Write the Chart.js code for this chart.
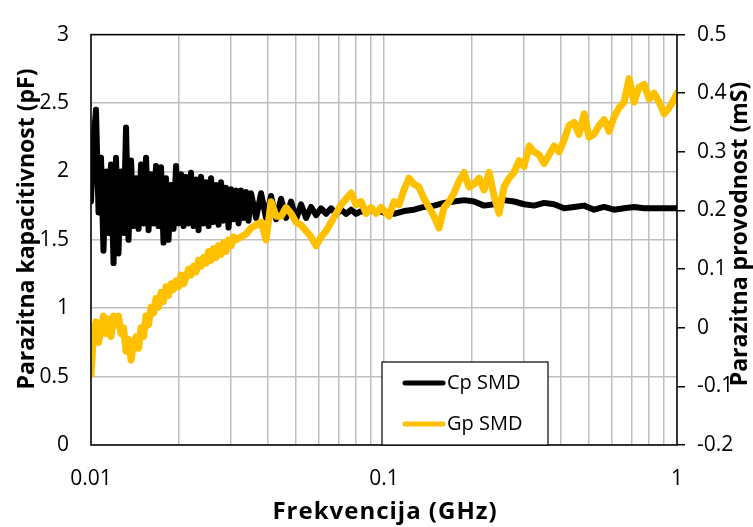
<!DOCTYPE html>
<html>
<head>
<meta charset="utf-8">
<script src="https://cdn.jsdelivr.net/npm/chart.js@4"></script>
<style>
  html, body { margin: 0; padding: 0; background: #fff; }
  #wrap { width: 753px; height: 527px; }
</style>
</head>
<body>
<div id="wrap"><canvas id="chart" width="753" height="527"></canvas></div>
<script>
// Cp SMD (pF, left axis)
const cpFreq = [
  0.01, 0.0102, 0.0104, 0.01061, 0.01082, 0.01103, 0.01126, 0.01148, 0.0117, 0.01194,
  0.01217, 0.01241, 0.01266, 0.01291, 0.01317, 0.01343, 0.0137, 0.01397, 0.01425, 0.01453,
  0.01482, 0.01511, 0.01541, 0.01572, 0.01603, 0.01635, 0.01667, 0.017, 0.01734, 0.01768,
  0.01803, 0.01839, 0.01876, 0.01913, 0.01951, 0.0199, 0.02029, 0.02069, 0.0211, 0.02152,
  0.02195, 0.02239, 0.02283, 0.02328, 0.02375, 0.02422, 0.0247, 0.02519, 0.02569, 0.0262,
  0.02672, 0.02725, 0.02779, 0.02834, 0.0289, 0.02948, 0.03006, 0.03066, 0.03127, 0.03189,
  0.03252, 0.03317, 0.03382, 0.03449, 0.03518,
  0.03659, 0.03806, 0.03958, 0.04117, 0.04282, 0.04454, 0.04632, 0.04818, 0.05011, 0.05212,
  0.05421, 0.05639, 0.05865, 0.061, 0.06344, 0.06599, 0.06863, 0.07139, 0.07425, 0.07722,
  0.08032, 0.08354, 0.08689, 0.09038, 0.094, 0.09777,
  0.1, 0.1082, 0.117, 0.1266, 0.137, 0.1482, 0.1603, 0.1734, 0.1876, 0.2029,
  0.2195, 0.2375, 0.2569, 0.2779, 0.3006, 0.3252, 0.3518, 0.3806, 0.4117, 0.4454,
  0.4818, 0.5212, 0.5639, 0.61, 0.6599, 0.7139, 0.7722, 0.8354, 0.9038, 1.0
];
const cpVals = [
  1.78, 2.22, 2.45, 1.70, 2.10, 1.42, 2.00, 1.55, 2.05, 1.33,
  2.10, 1.40, 2.00, 1.55, 2.32, 1.50, 2.08, 1.60, 1.95, 1.58,
  2.05, 1.62, 2.10, 1.57, 1.98, 1.62, 2.04, 1.60, 2.03, 1.48,
  1.95, 1.50, 1.90, 1.58, 2.04, 1.62, 1.98, 1.60, 1.96, 1.62,
  1.99, 1.60, 1.94, 1.57, 1.96, 1.62, 1.92, 1.60, 1.95, 1.63,
  1.90, 1.61, 1.92, 1.64, 1.88, 1.59, 1.87, 1.65, 1.86, 1.62,
  1.86, 1.66, 1.85, 1.64, 1.84,
  1.66, 1.84, 1.66, 1.82, 1.65, 1.80, 1.66, 1.78, 1.65, 1.76,
  1.66, 1.74, 1.68, 1.73, 1.69, 1.73, 1.69, 1.72, 1.69, 1.72,
  1.69, 1.71, 1.70, 1.72, 1.70, 1.71,
  1.70, 1.69, 1.71, 1.72, 1.74, 1.75, 1.77, 1.78, 1.79, 1.78,
  1.75, 1.76, 1.79, 1.78, 1.76, 1.75, 1.77, 1.76, 1.73, 1.74,
  1.75, 1.72, 1.74, 1.72, 1.73, 1.74, 1.73, 1.73, 1.73, 1.73
];

// Gp SMD (mS, right axis)
const gpFreq = [
  0.01, 0.0102, 0.0104, 0.01061, 0.01082, 0.01103, 0.01126, 0.01148, 0.0117, 0.01194,
  0.01217, 0.01241, 0.01266, 0.01291, 0.01317, 0.01343, 0.0137, 0.01397, 0.01425, 0.01453,
  0.01482, 0.01511, 0.01541, 0.01572, 0.01603, 0.01635, 0.01667, 0.017, 0.01734, 0.01768,
  0.01803, 0.01839, 0.01876, 0.01913, 0.01951, 0.0199, 0.02029, 0.02069, 0.0211, 0.02152,
  0.02195, 0.02239, 0.02283, 0.02328, 0.02375, 0.02422, 0.0247, 0.02519, 0.02569, 0.0262,
  0.02672, 0.02725, 0.02779, 0.02834, 0.0289, 0.02948, 0.03006, 0.03066, 0.03127,
  0.03252, 0.03382, 0.03518, 0.03659, 0.03806, 0.03958, 0.04117, 0.04282, 0.04454, 0.04632,
  0.04818, 0.05011, 0.05212, 0.05421, 0.05639, 0.05865, 0.061, 0.06344, 0.06599, 0.06863,
  0.07139, 0.07425, 0.07722, 0.08032, 0.08354, 0.08689, 0.09038, 0.094, 0.09777,
  0.1, 0.104, 0.1082, 0.1126, 0.117, 0.1217, 0.1266, 0.1317, 0.137, 0.1425,
  0.1482, 0.1541, 0.1603, 0.1667, 0.1734, 0.1803, 0.1876, 0.1951, 0.2029, 0.211,
  0.2195, 0.2283, 0.2375, 0.247, 0.2569, 0.2672, 0.2779, 0.289, 0.3006, 0.3127,
  0.3252, 0.3382, 0.3518, 0.3659, 0.3806, 0.3958, 0.4117, 0.4282, 0.4454, 0.4632,
  0.4818, 0.5011, 0.5212, 0.5421, 0.5639, 0.5865, 0.61, 0.6344, 0.6599, 0.6863,
  0.7139, 0.7425, 0.7722, 0.8032, 0.8354, 0.8689, 0.9038, 0.94, 0.9777, 1.0
];
const gpVals = [
  -0.08, -0.01, 0.01, -0.025, -0.005, 0.02, -0.01, 0.015, -0.015, 0.02,
  0.005, 0.02, -0.01, 0.0, -0.04, -0.02, -0.055, -0.03, -0.015, -0.035,
  0.0, -0.015, 0.02, 0.005, 0.035, 0.025, 0.05, 0.035, 0.06, 0.045,
  0.07, 0.055, 0.075, 0.065, 0.08, 0.07, 0.09, 0.075, 0.085, 0.1,
  0.09, 0.105, 0.095, 0.115, 0.105, 0.12, 0.11, 0.13, 0.115, 0.135,
  0.12, 0.14, 0.125, 0.145, 0.13, 0.15, 0.14, 0.155, 0.15,
  0.155, 0.16, 0.17, 0.175, 0.18, 0.15, 0.215, 0.19, 0.19, 0.205,
  0.195, 0.18, 0.175, 0.165, 0.155, 0.14, 0.155, 0.165, 0.18, 0.195,
  0.21, 0.22, 0.23, 0.21, 0.215, 0.195, 0.205, 0.195, 0.205,
  0.20, 0.19, 0.215, 0.21, 0.235, 0.255, 0.245, 0.24, 0.22, 0.205,
  0.19, 0.17, 0.205, 0.215, 0.23, 0.25, 0.265, 0.24, 0.245, 0.255,
  0.235, 0.265, 0.225, 0.195, 0.24, 0.255, 0.265, 0.285, 0.275, 0.31,
  0.30, 0.295, 0.28, 0.295, 0.31, 0.30, 0.32, 0.345, 0.35, 0.33,
  0.365, 0.325, 0.33, 0.345, 0.355, 0.335, 0.36, 0.375, 0.385, 0.425,
  0.385, 0.41, 0.415, 0.39, 0.40, 0.385, 0.365, 0.375, 0.39, 0.40
];

// axes
const xGridTicks = [0.01, 0.02, 0.03, 0.04, 0.05, 0.06, 0.07, 0.08, 0.09,
  0.1, 0.2, 0.3, 0.4, 0.5, 0.6, 0.7, 0.8, 0.9, 1];
const xLabelValues = [0.01, 0.1, 1];
const xLabels = ['0.01', '0.1', '1'];
const leftTicks = [0, 0.5, 1, 1.5, 2, 2.5, 3];
const leftLabels = ['0', '0.5', '1', '1.5', '2', '2.5', '3'];
const rightTicks = [-0.2, -0.1, 0, 0.1, 0.2, 0.3, 0.4, 0.5];
const rightLabels = ['-0.2', '-0.1', '0', '0.1', '0.2', '0.3', '0.4', '0.5'];

const seriesNames = ['Cp SMD', 'Gp SMD'];
const seriesColors = ['#000000', '#FFC000'];
const xTitle = 'Frekvencija (GHz)';
const yTitle = 'Parazitna kapacitivnost (pF)';
const y2Title = 'Parazitna provodnost (mS)';

const tickFont = { family: 'Open Sans', size: 21 };

const decor = {
  id: 'decor',
  afterDatasetsDraw(chart) {
    const { ctx, chartArea: a } = chart;
    ctx.save();
    ctx.strokeStyle = '#000';
    ctx.lineWidth = 1.5;
    ctx.strokeRect(a.left, a.top, a.right - a.left, a.bottom - a.top);
    ctx.restore();
  },
  afterDraw(chart) {
    const { ctx, chartArea: a } = chart;
    ctx.save();
    ctx.fillStyle = '#000';
    ctx.textAlign = 'center';
    ctx.textBaseline = 'middle';
    ctx.font = 'bold 24px "Open Sans"';
    ctx.letterSpacing = '1px';
    ctx.fillText(xTitle, 385, 512);
    ctx.letterSpacing = '0px';

    ctx.font = 'bold 23px "Open Sans"';
    ctx.save();
    ctx.translate(27, 229);
    ctx.rotate(-Math.PI / 2);
    ctx.fillText(yTitle, 0, 0);
    ctx.restore();

    ctx.save();
    ctx.translate(740, 234);
    ctx.rotate(-Math.PI / 2);
    ctx.fillText(y2Title, 0, 0);
    ctx.restore();

    // legend box
    const lx = 382, ly = 362, lw = 166, lh = a.bottom - 362;
    ctx.fillStyle = '#fff';
    ctx.fillRect(lx, ly, lw, lh);
    ctx.strokeStyle = '#000';
    ctx.lineWidth = 1.2;
    ctx.strokeRect(lx, ly, lw, lh);
    ctx.font = '20px "Open Sans"';
    ctx.textAlign = 'left';
    const rows = [383, 424];
    seriesNames.forEach((name, i) => {
      ctx.strokeStyle = seriesColors[i];
      ctx.lineWidth = 5;
      ctx.lineCap = 'round';
      ctx.beginPath();
      ctx.moveTo(405, rows[i]);
      ctx.lineTo(443, rows[i]);
      ctx.stroke();
      ctx.fillStyle = '#000';
      ctx.fillText(name, 447, rows[i]);
    });
    ctx.restore();
  }
};

new Chart(document.getElementById('chart'), {
  type: 'line',
  data: {
    datasets: [
      {
        label: seriesNames[0],
        data: cpFreq.map((f, i) => ({ x: f, y: cpVals[i] })),
        borderColor: seriesColors[0],
        borderWidth: 6,
        borderJoinStyle: 'round',
        borderCapStyle: 'round',
        pointRadius: 0,
        yAxisID: 'y',
        order: 1
      },
      {
        label: seriesNames[1],
        data: gpFreq.map((f, i) => ({ x: f, y: gpVals[i] })),
        borderColor: seriesColors[1],
        borderWidth: 7,
        borderJoinStyle: 'round',
        borderCapStyle: 'round',
        pointRadius: 0,
        yAxisID: 'y2',
        order: 0
      }
    ]
  },
  options: {
    responsive: false,
    animation: false,
    devicePixelRatio: 1,
    layout: { padding: { top: 20, left: 0, right: 0, bottom: 0 } },
    plugins: { legend: { display: false }, tooltip: { enabled: false } },
    scales: {
      x: {
        type: 'logarithmic',
        min: 0.01,
        max: 1,
        afterBuildTicks: s => { s.ticks = xGridTicks.map(v => ({ value: v })); },
        afterFit: s => { s.height = 82; },
        grid: { color: '#bfbfbf', lineWidth: 1.5, drawTicks: false },
        border: { display: false },
        ticks: {
          autoSkip: false,
          maxRotation: 0,
          padding: 21,
          color: '#000',
          font: tickFont,
          callback: v => {
            const k = xLabelValues.findIndex(t => Math.abs(t - v) < 1e-9);
            return k >= 0 ? xLabels[k] : '';
          }
        }
      },
      y: {
        position: 'left',
        min: 0,
        max: 3,
        afterBuildTicks: s => { s.ticks = leftTicks.map(v => ({ value: v })); },
        afterFit: s => { s.width = 91; },
        grid: { color: '#bfbfbf', lineWidth: 1.5, drawTicks: false },
        border: { display: false },
        ticks: {
          padding: 22,
          color: '#000',
          font: tickFont,
          callback: (v, i) => leftLabels[i]
        }
      },
      y2: {
        position: 'right',
        min: -0.2,
        max: 0.5,
        afterBuildTicks: s => { s.ticks = rightTicks.map(v => ({ value: v })); },
        afterFit: s => { s.width = 76; },
        grid: { drawOnChartArea: false, drawTicks: true, tickLength: 8, color: '#000', lineWidth: 1.5 },
        border: { display: false },
        ticks: {
          padding: 12,
          color: '#000',
          font: tickFont,
          callback: (v, i) => rightLabels[i]
        }
      }
    }
  },
  plugins: [decor]
});
</script>
</body>
</html>
